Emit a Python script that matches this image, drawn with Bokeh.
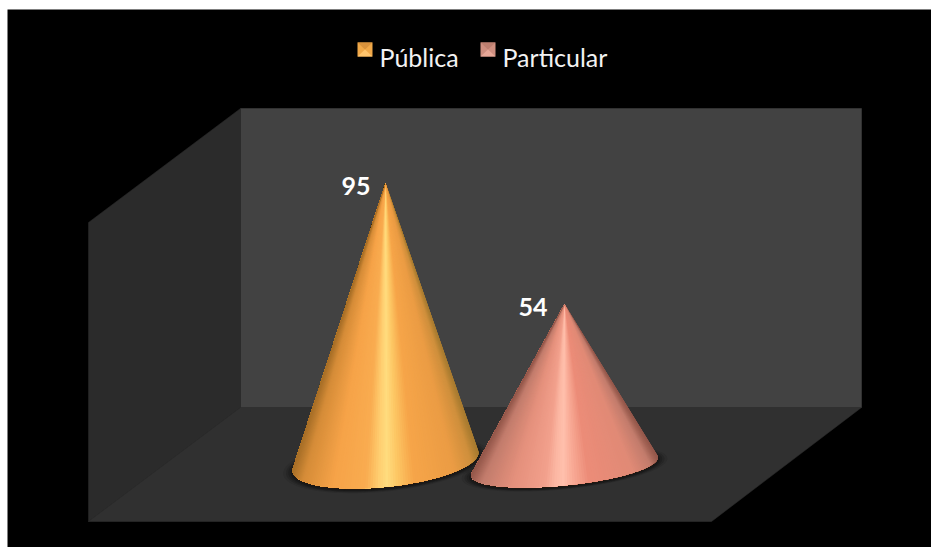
import numpy as np
from bokeh.plotting import figure
from bokeh.models import Range1d
from bokeh.core.properties import value
from bokeh.embed import file_html
from bokeh.resources import INLINE

categories = ["Pública", "Particular"]
values = [95, 54]
label_texts = ["95", "54"]

W, H = 931, 547
Y0, SCALE = 463.0, 2.95        # page row of value 0, page rows per unit


def vy(row):
    return (Y0 - np.asarray(row, dtype=float)) / SCALE


p = figure(width=W, height=H, output_backend="svg", toolbar_location=None,
           x_range=Range1d(7, 931), y_range=Range1d(float(vy(547)), float(vy(9))),
           x_axis_location=None, y_axis_location=None,
           background_fill_color="#000000", border_fill_color="#ffffff",
           min_border_left=7, min_border_right=0, min_border_bottom=0, min_border_top=9)
p.grid.visible = False
p.outline_line_color = None

# box walls
walls = [
    ([240, 861, 861, 240], [108, 108, 407, 407], "#424242"),
    ([88, 240, 240, 88], [222, 108, 407, 521], "#2b2b2b"),
    ([88, 240, 861, 711], [521, 407, 407, 521], "#303030"),
]
for xs, ys, c in walls:
    p.patch(xs, vy(ys), fill_color=c, line_color=c, line_width=0.5)

# cone styling
cone_cx = [385, 564]
cone_cy = [461, 466]
cone_a = [93, 93.5]
cone_b = [25.5, 19]
cone_t = 9.0
STOPS = [
    ([-1, -.88, -.55, -.2, -.06, .03, .14, .32, .75, .93, 1],
     ["#a97028", "#d58c38", "#f6a348", "#f9ac50", "#ffce70", "#ffdc7e", "#fdc865", "#f6a549", "#eb9c44", "#cf8f3c", "#a97c30"]),
    ([-1, -.88, -.55, -.2, -.08, 0, .12, .28, .75, .93, 1],
     ["#96594c", "#c27c6c", "#e4907c", "#f2a08c", "#fcb8a4", "#ffbfac", "#f8a893", "#ec8c78", "#e08a76", "#c27c6c", "#96594c"]),
]


def rgb(h):
    return np.array([int(h[i:i + 2], 16) for i in (1, 3, 5)], dtype=float)


def shade(u, stops):
    pos, cols = stops
    arr = np.array([rgb(c) for c in cols])
    c = [np.interp(u, pos, arr[:, k]) for k in range(3)]
    return "#%02x%02x%02x" % tuple(int(round(x)) for x in c)


def ring(cx, cy, a, b, th):
    return cx + a * np.cos(th), cy - cone_t * (a / 93.0) * np.cos(th) + b * np.sin(th)


def draw_cone(i):
    v = values[i]
    cx, cy, a, b = cone_cx[i], cone_cy[i], cone_a[i], cone_b[i]
    tip_row = Y0 - v * SCALE
    full = np.linspace(0, 2 * np.pi, 120)
    # soft shadow on the floor
    for s, alpha in [(1.10, .10), (1.07, .14), (1.045, .2), (1.02, .3)]:
        xs, ys = ring(cx, cy + 2, a * s, b * s, full)
        p.patch(xs, vy(ys), fill_color="#0a0a0a", fill_alpha=alpha, line_color=None)
    xs, ys = ring(cx, cy + 1.0, a, b, full)
    p.patch(xs, vy(ys), fill_color="#2a1608", fill_alpha=.8, line_color=None)

    # front of the cone between the two tangent points seen from the tip
    grid = np.linspace(-np.pi / 2, 3 * np.pi / 2, 1441)
    gx, gy = ring(cx, cy, a, b, grid)
    slope = (gx - cx) / (gy - tip_row)
    start, stop = grid[np.argmax(slope)], grid[np.argmin(slope)]
    th = np.linspace(start, stop, 241)
    bx, by = ring(cx, cy, a, b, th)
    # painter's order: every fan covers everything still to come, so no seams appear
    xs_list, ys_list, colors = [], [], []
    for k in range(0, len(th) - 1, 2):
        xs_list.append([cx] + list(bx[k:]))
        ys_list.append(list(vy([tip_row] + list(by[k:]))))
        u = np.clip((bx[k] - cx) / a, -1, 1)
        colors.append(shade(u, STOPS[i]))
    p.patches(xs_list, ys_list, fill_color=colors, line_color=None)


for i in range(len(values)):
    draw_cone(i)

# data labels
p.text([cone_cx[0] - 15, cone_cx[1] - 17],
       [values[0] - 1.0, values[1] - 1.0],
       text=label_texts, text_color="#ffffff", text_font=value("Lato"),
       text_font_style="bold", text_font_size="25px",
       text_align="right", text_baseline="alphabetic")

# legend
sw_x = [357, 480]
text_x = [379, 502]
sw_cols = [("#d8923c", "#f0a848", "#ffc46c", "#eca446"), ("#bd7f70", "#cf8f80", "#e8a898", "#cb8b7b")]
for i, name in enumerate(categories):
    l, r, t, b, mx, my = sw_x[i], sw_x[i] + 15, 42, 56, sw_x[i] + 7.5, 49
    top, left, bottom, right = sw_cols[i]
    p.patch([l, r, r, l], vy([t, t, b, b]), fill_color=left, line_color=None)
    for xs, ys, c in [([l, r, mx], [t, t, my], top), ([l, r, mx], [b, b, my], bottom)]:
        p.patch(xs, vy(ys), fill_color=c, line_color=None)
p.text(text_x, vy([56, 56]), text=categories, text_color="#f2f2f2", text_font=value("Lato"),
       text_font_size="25px", text_align="left", text_baseline="alphabetic")

open("out.html", "w").write(file_html(p, INLINE))
